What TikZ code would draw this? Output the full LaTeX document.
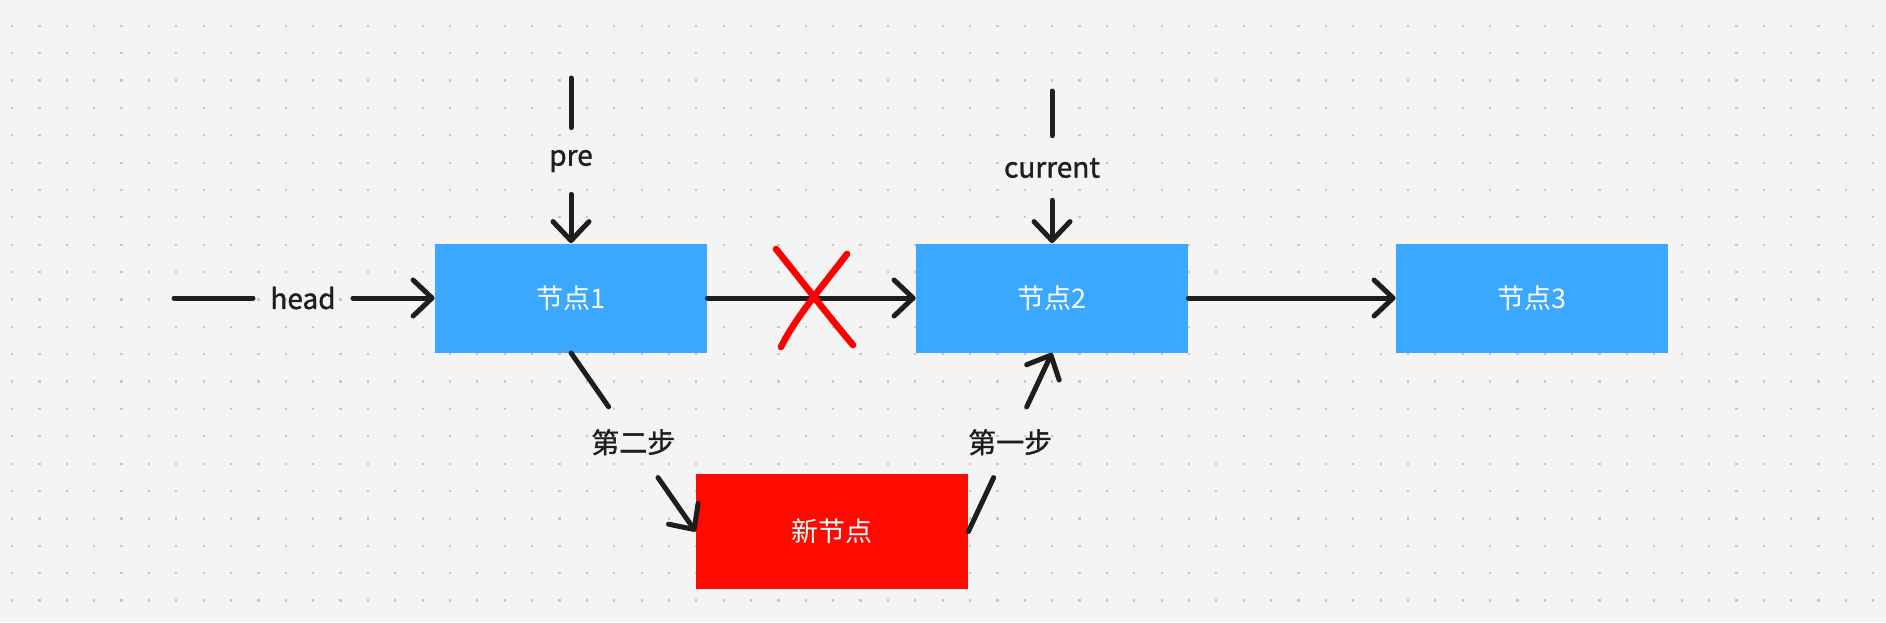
\documentclass[tikz,border=0pt]{standalone}
\usepackage{fontspec}
\setmainfont{Noto Sans CJK SC}
\newfontfamily\lblfont[FakeBold=1.2]{Noto Sans CJK SC}
\usetikzlibrary{arrows.meta}
\definecolor{bgGray}{HTML}{F4F4F4}
\definecolor{dotGray}{HTML}{C8C8C8}
\definecolor{nodeBlue}{HTML}{3AA8FF}
\definecolor{newRed}{HTML}{FF0A00}
\definecolor{inkBlack}{HTML}{1E1E1E}
\tikzstyle{listnode} = [rectangle, minimum width=136pt, minimum height=54.5pt, text centered, fill=nodeBlue, text=white, font=\fontsize{13.5pt}{16pt}\selectfont]
\tikzstyle{newnode} = [listnode, fill=newRed, minimum height=57.5pt]
\tikzstyle{lbl} = [inner xsep=8.5pt, inner ysep=11pt, text=inkBlack, font=\lblfont\fontsize{14pt}{16pt}\selectfont]
\tikzstyle{plain} = [line width=2.5pt, draw=inkBlack, line cap=round]
\tikzstyle{link} = [plain, -{Straight Barb[length=9.5pt,width=18pt,line cap=round,line join=round]}]
\tikzstyle{cross} = [line width=3.3pt, draw=red, line cap=round]

\begin{document}
\begin{tikzpicture}[x=0.5pt, y=-0.5pt]
\useasboundingbox (0,0) rectangle (1886,622);
\fill[bgGray] (0,0) rectangle (1886,622);
% dotted grid
\foreach \i in {0,...,68}
  \foreach \j in {0,...,22}
    \fill[dotGray] ({11+27.37*\i},{-2.7+27.37*\j}) rectangle ++(2.2,2.2);

% list nodes
\node[listnode] (node1) at (571,298) {节点1};
\node[listnode] (node2) at (1052,298) {节点2};
\node[listnode] (node3) at (1532,298) {节点3};
\node[newnode] (newnode) at (832,531.5) {新节点};

% pointers
\coordinate (headstart) at (174,298);
\node[lbl] (head) at (303,298) {head};
\draw[plain] (headstart) -- (head);
\draw[link] (head) -- (node1);

\coordinate (pretop) at (571,78);
\node[lbl] (pre) at (571,161) {pre};
\draw[plain] (pretop) -- (pre);
\draw[link] (pre) -- (node1);

\coordinate (curtop) at (1052,91);
\node[lbl] (current) at (1052,168) {current};
\draw[plain] (curtop) -- (current);
\draw[link] (current) -- (node2);

% links
\draw[link] (node1) -- (node2);
\draw[link] (node2) -- (node3);

% steps
\path (node1.south) -- node[lbl] (step2) {第二步} (newnode.west);
\draw[plain] (node1.south) -- (step2);
\draw[link] (step2) -- (newnode.west);
\path (newnode.east) -- node[lbl] (step1) {第一步} (node2.south);
\draw[plain] (newnode.east) -- (step1);
\draw[link] (step1) -- (node2.south);

% red cross
\draw[cross] (776,249) .. controls (805,285) and (830,318) .. (853,345);
\draw[cross] (847,254) .. controls (825,283) and (795,318) .. (781,347);
\end{tikzpicture}
\end{document}
